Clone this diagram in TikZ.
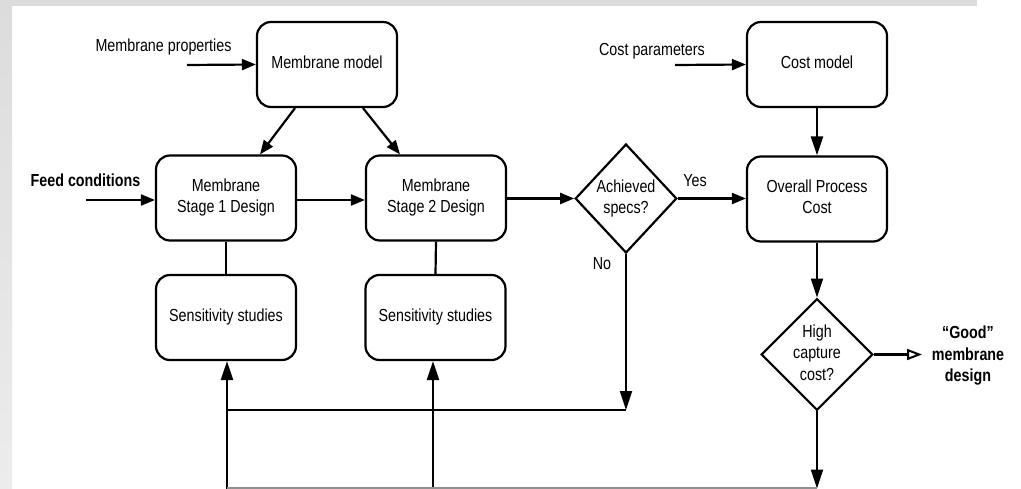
\documentclass[tikz,border=0pt]{standalone}
\usepackage{fontspec}
\setmainfont{Liberation Sans}
\usepackage{graphicx}
\usetikzlibrary{shapes.geometric,arrows.meta,calc}
\definecolor{bgtop}{HTML}{DCDCDC}
\definecolor{bgbot}{HTML}{ECECEC}
\definecolor{edgegray}{HTML}{909090}
\newcommand\vtext[1]{\scalebox{1}[1.22]{\begin{tabular}{@{}c@{}}#1\end{tabular}}}
\begin{document}
\begin{tikzpicture}[x=1pt,y=-1pt,
  every node/.style={font=\fontsize{14.3}{17.5}\selectfont, inner sep=0pt},
  boldtext/.style={font=\fontsize{14.3}{17.5}\selectfont\bfseries},
  box/.style={draw, line width=2.2pt, rounded corners=14pt, minimum width=140pt, minimum height=85pt, align=center},
  dia/.style={draw, diamond, line width=2.2pt, inner sep=0pt},
  conn/.style={line width=2.2pt},
  harr/.style={conn, -{Triangle[length=14pt,width=11pt]}},
  varr/.style={conn, -{Triangle[length=19pt,width=12pt]}},
  oarr/.style={conn, -{Triangle[open,length=15pt,width=11pt,line width=2pt]}},
]
\useasboundingbox (0,0) rectangle (1021,489);
\fill[white] (0,0) rectangle (1021,489);
\shade[top color=bgtop, bottom color=bgbot] (0,0) rectangle (12,489);
\fill[bgtop] (0,0) rectangle (977,6);

% boxes
\node[box] (mm) at (327,64.5) {\vtext{Membrane model}};
\node[box] (s1) at (226,198) {\vtext{Membrane\\Stage 1 Design}};
\node[box] (s2) at (436,198) {\vtext{Membrane\\Stage 2 Design}};
\node[box] (cm) at (817,64.5) {\vtext{Cost model}};
\node[box] (oc) at (817,199) {\vtext{Overall Process\\Cost}};
\node[box] (ss1) at (226,317.5) {\vtext{Sensitivity studies}};
\node[box] (ss2) at (435.5,317.5) {\vtext{Sensitivity studies}};
\node[dia, minimum width=100pt, minimum height=109pt] (d1) at (626,198.5) {\vtext{Achieved\\specs?}};
\node[dia, minimum width=108pt, minimum height=109pt] (d2) at (817,354.5) {\vtext{High\\capture\\cost?}};

% free labels
\node (mp) at (163.5,47) {\vtext{Membrane properties}};
\node[boldtext] (fc) at (85.5,182) {\vtext{Feed conditions}};
\node (cp) at (652,51) {\vtext{Cost parameters}};
\node (yes) at (695,182) {\vtext{Yes}};
\node (no) at (602,265) {\vtext{No}};
\node[boldtext] (good) at (968,356) {\vtext{“Good”\\membrane\\design}};

% free ends
\coordinate (mpin) at (187,65);
\coordinate (fin) at (86,200);
\coordinate (cpin) at (675,65);
\coordinate (nob) at (626,410);
\coordinate (b1) at (227,488.5);
\coordinate (b2) at (433,488.5);
\coordinate (b3) at (817,488.5);
\coordinate (gtip) at (922,354.5);

% connectors
\draw[harr] (mpin) -- (mm.west);
\draw[harr] (fin) -- (fin -| s1.west);
\draw[harr] (s1.east |- fin) -- (s2.west |- fin);
\draw[harr] (s2.east |- d1.west) -- (d1.west);
\draw[harr] (d1.east) -- (oc.west |- d1.east);
\draw[harr] ($(mm.south)+(-32,0)$) -- ($(s1.north)+(34,0)$);
\draw[harr] ($(mm.south)+(36,0)$) -- ($(s2.north)+(-36,0)$);
\draw[harr] (cpin) -- (cm.west);
\draw[varr] (cm.south) -- (oc.north);
\draw[varr] (oc.south) -- (d2.north);
\draw[conn] (s1.south) -- (ss1.north);
\draw[conn] (s2.south) -- (ss2.north);
\draw[varr] (d1.south) -- (nob);
\draw[conn] (nob) -- (nob -| b1);
\draw[varr] (b1) -- (b1 |- ss1.south);
\draw[varr] (b2) -- (b2 |- ss2.south);
\draw[varr] (d2.south) -- (b3);
\draw[conn, edgegray] (b1) -- (b3);
\draw[oarr] (d2.east) -- (gtip);
\end{tikzpicture}
\end{document}
